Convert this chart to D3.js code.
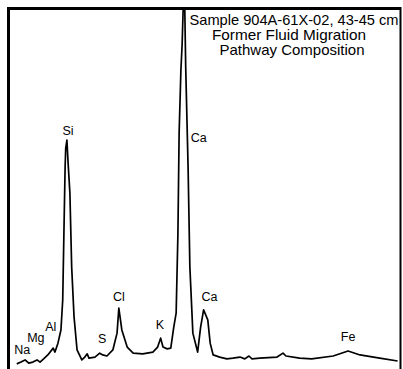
<!DOCTYPE html>
<html>
<head>
  <meta charset="utf-8" />
  <title>EDS spectrum</title>
  <style>
    body { margin: 0; background: white; }
    svg { display: block; }
    text { font-family: "Liberation Sans", Arial, Helvetica, sans-serif; fill: black; }
    .spectrum { fill: none; stroke: black; stroke-width: 1.7px; stroke-linejoin: round; }
    .frame { fill: none; stroke: black; }
  </style>
</head>
<body>
  <svg></svg>
  <script src="https://d3js.org/d3.v7.min.js"></script>
  <script>
    // spectrum: energy (keV) and counts (arbitrary units)
    var energy = [0.90, 0.97, 1.04, 1.10, 1.17, 1.24, 1.29, 1.35, 1.42, 1.51, 1.54, 1.59, 1.64, 1.67, 1.69,
      1.71, 1.72, 1.74, 1.76, 1.79, 1.82, 1.86, 1.91, 1.99, 2.04, 2.08, 2.11, 2.21, 2.29, 2.34, 2.41,
      2.51, 2.58, 2.61, 2.66, 2.75, 2.85, 3.01, 3.18, 3.26, 3.31, 3.35, 3.42, 3.48, 3.53, 3.57, 3.60,
      3.62, 3.65, 3.67, 3.705, 3.73, 3.77, 3.80, 3.85, 3.93, 3.98, 4.03, 4.10, 4.14, 4.19, 4.30, 4.42,
      4.52, 4.64, 4.72, 4.79, 4.84, 4.97, 5.26, 5.36, 5.41, 5.64, 5.84, 6.20, 6.45, 6.65, 6.98, 7.28];
    var counts = [0.6, 1.1, 1.7, 0.8, 1.1, 1.7, 1.1, 2.0, 3.1, 5.0, 3.9, 6.4, 10.1, 18.5, 37.3,
      55.7, 61.0, 63.3, 56.9, 48.5, 27.7, 13.7, 4.5, 1.7, 2.5, 3.4, 2.2, 2.5, 3.6, 3.1, 2.8,
      4.5, 9.2, 16.2, 10.1, 5.3, 3.6, 3.4, 3.9, 5.3, 7.8, 5.3, 4.8, 5.0, 10.9, 14.8, 37.3,
      65.3, 83.0, 90.0, 110.0, 83.8, 55.7, 27.7, 9.2, 3.9, 10.9, 15.7, 12.9, 6.4, 3.1, 2.5, 2.0,
      2.2, 2.5, 2.0, 2.8, 2.0, 2.2, 2.5, 3.6, 2.8, 2.2, 2.0, 2.8, 4.2, 3.1, 2.2, 1.4];

    // peak labels: element and where the label sits (keV, counts)
    var elements = ["Na", "Mg", "Al", "Si", "S", "Cl", "K", "Ca", "Ca", "Fe"];
    var labelKeV = [0.99, 1.22, 1.47, 1.76, 2.33, 2.61, 3.30, 3.95, 4.13, 6.45];
    var labelCounts = [3.4, 6.7, 9.8, 64.7, 6.4, 18.2, 10.4, 62.7, 18.2, 7.0];

    var titleLines = ["Sample 904A-61X-02, 43-45 cm", "Former Fluid Migration", "Pathway Composition"];

    var width = 403, height = 369;
    var plotLeft = 9, plotTop = 9, plotRight = 400, plotBottom = 366;

    var svg = d3.select("svg").attr("width", width).attr("height", height);

    var x = d3.scaleLinear().domain([0.77, 7.32]).range([plotLeft, plotRight]);
    var y = d3.scaleLinear().domain([0, 100]).range([plotBottom, plotTop]);

    svg.append("clipPath").attr("id", "plot")
      .append("rect")
      .attr("x", plotLeft).attr("y", plotTop)
      .attr("width", plotRight - plotLeft).attr("height", height - plotTop);

    var pts = energy.map((e, i) => [e, counts[i]]);
    var line = d3.line().x(d => x(d[0])).y(d => y(d[1]));

    svg.append("path")
      .datum(pts)
      .attr("class", "spectrum")
      .attr("clip-path", "url(#plot)")
      .attr("d", line);

    // frame: left, top, right sides (bottom is cut off in the original)
    svg.append("path")
      .attr("class", "frame")
      .attr("stroke-width", 3)
      .attr("d", "M8.5," + (height + 2) + "V8.5H401");
    svg.append("line")
      .attr("stroke", "black").attr("stroke-width", 2)
      .attr("x1", 400.5).attr("x2", 400.5).attr("y1", 7).attr("y2", height + 2);

    svg.append("g")
      .selectAll("text")
      .data(elements)
      .join("text")
      .attr("x", (d, i) => x(labelKeV[i]))
      .attr("y", (d, i) => y(labelCounts[i]))
      .attr("text-anchor", "middle")
      .attr("font-size", 12.5)
      .text(d => d);

    // title widths
    var titleCx = [294, 289, 292], titleW = [209, 154, 145];
    svg.append("g")
      .selectAll("text")
      .data(titleLines)
      .join("text")
      .attr("x", (d, i) => titleCx[i])
      .attr("y", (d, i) => 25 + i * 15)
      .attr("text-anchor", "middle")
      .attr("font-size", 15)
      .attr("textLength", (d, i) => titleW[i])
      .attr("lengthAdjust", "spacingAndGlyphs")
      .text(d => d);
  </script>
</body>
</html>
